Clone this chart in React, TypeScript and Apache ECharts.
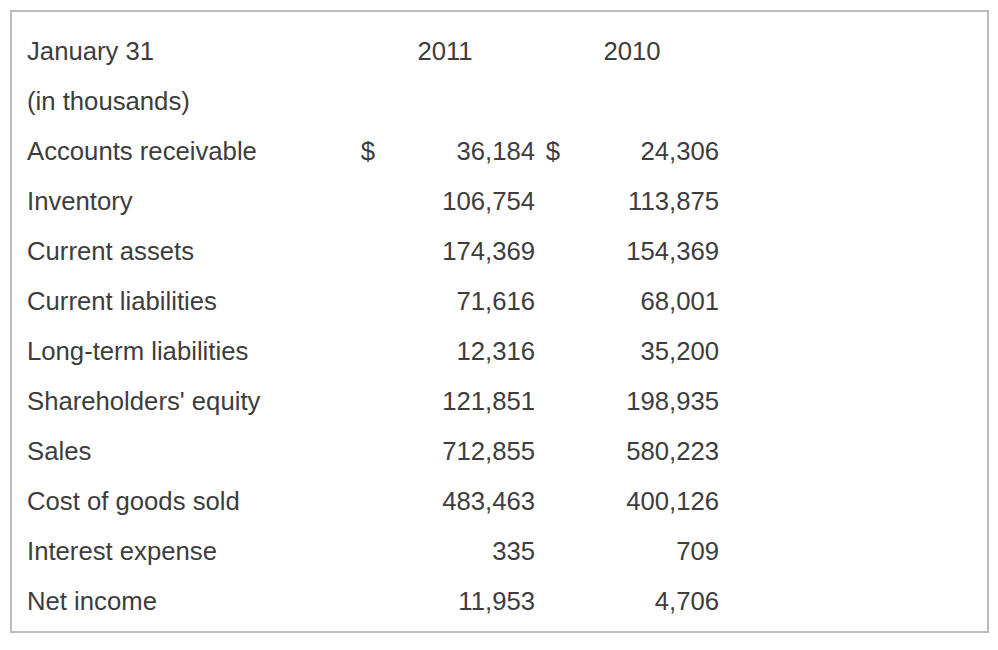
import React, { useEffect, useRef } from "react";
import * as echarts from "echarts";

const headerLabel = "January 31";
const subHeader = "(in thousands)";
const years = ["2011", "2010"];
const rowLabels = [
  "Accounts receivable",
  "Inventory",
  "Current assets",
  "Current liabilities",
  "Long-term liabilities",
  "Shareholders' equity",
  "Sales",
  "Cost of goods sold",
  "Interest expense",
  "Net income",
];
const values2011 = ["36,184", "106,754", "174,369", "71,616", "12,316", "121,851", "712,855", "483,463", "335", "11,953"];
const values2010 = ["24,306", "113,875", "154,369", "68,001", "35,200", "198,935", "580,223", "400,126", "709", "4,706"];
const dollarRows = [0];

export default function App() {
  const ref = useRef<HTMLDivElement>(null);
  useEffect(() => {
    if (!ref.current) return;
    const chart = echarts.init(ref.current, null, { renderer: "svg" });
    const font = "Liberation Sans, Arial, sans-serif";
    const fs = 25.7;
    const color = "#3d3d3d";
    const rowY = (i: number) => 51 + 50 * i;
    const txt = (text: string, x: number, y: number, align: string) => ({
      type: "text",
      x,
      y,
      style: { text, fill: color, font: `${fs}px ${font}`, align, verticalAlign: "middle" },
    });
    const els: any[] = [
      {
        type: "rect",
        shape: { x: 11, y: 11, width: 977, height: 621 },
        style: { fill: "#ffffff", stroke: "#bbbbbb", lineWidth: 2 },
      },
      txt(headerLabel, 27, rowY(0), "left"),
      txt(years[0], 445, rowY(0), "center"),
      txt(years[1], 632, rowY(0), "center"),
      txt(subHeader, 27, rowY(1), "left"),
    ];
    rowLabels.forEach((lab, i) => {
      const y = rowY(i + 2);
      els.push(txt(lab, 27, y, "left"));
      els.push(txt(values2011[i], 535, y, "right"));
      els.push(txt(values2010[i], 719, y, "right"));
      if (dollarRows.includes(i)) {
        els.push(txt("$", 368, y, "center"));
        els.push(txt("$", 553, y, "center"));
      }
    });
    chart.setOption({ animation: false, graphic: { elements: els } });
    return () => chart.dispose();
  }, []);
  return (
    <div
      ref={ref}
      style={{ position: "fixed", left: 0, top: 0, width: 998, height: 650, background: "#fff" }}
    />
  );
}
